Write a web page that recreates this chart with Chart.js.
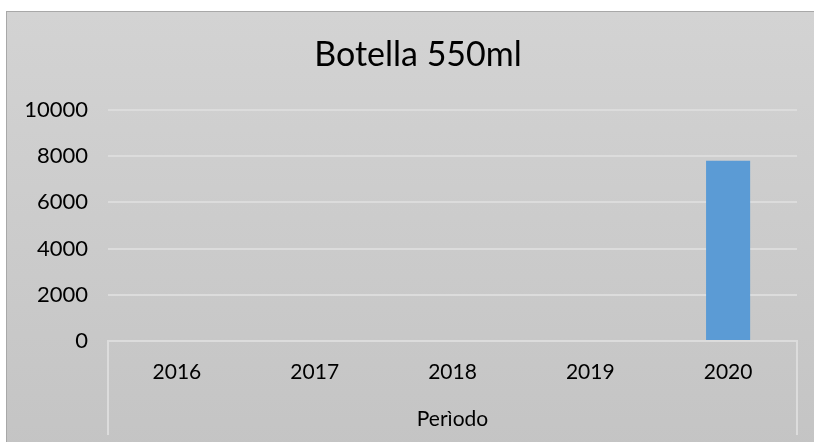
<!DOCTYPE html>
<html><head><meta charset="utf-8">
<script src="https://cdn.jsdelivr.net/npm/chart.js@4/dist/chart.umd.min.js"></script>
<style>
html,body{margin:0;padding:0;background:#fff;}
#frame{position:absolute;left:6px;top:11px;width:820px;height:440px;border:1px solid #a8a8a8;background:linear-gradient(#d3d3d3,#c4c4c4);}
#wrap{position:absolute;left:0;top:0;width:814px;height:442px;}
</style></head>
<body>
<div id="frame"></div>
<div id="wrap"><canvas id="c" width="814" height="442"></canvas></div>
<script>
const categories = ["2016","2017","2018","2019","2020"];
const values = [0,0,0,0,7800];
const chartTitle = "Botella 550ml";
const xTitle = "Perìodo";

const decor = {
  id:'decor',
  afterDraw(chart){
    const {ctx, chartArea} = chart;
    ctx.save();
    ctx.strokeStyle = '#dcdcdc';
    ctx.lineWidth = 2;
    ctx.beginPath();
    ctx.moveTo(chartArea.left, chartArea.bottom);
    ctx.lineTo(chartArea.left, chartArea.bottom + 94);
    ctx.moveTo(chartArea.right, chartArea.bottom);
    ctx.lineTo(chartArea.right, chartArea.bottom + 94);
    ctx.stroke();
    // chart title, centred on the chart frame
    ctx.fillStyle = '#000';
    ctx.font = '34px Lato';
    ctx.textAlign = 'center';
    ctx.textBaseline = 'middle';
    ctx.fillText(chartTitle, 418, 55);
    ctx.restore();
  }
};

new Chart(document.getElementById('c'), {
  type:'bar',
  data:{labels:categories, datasets:[{data:values, backgroundColor:'#5b9bd5', barPercentage:0.32, categoryPercentage:1}]},
  options:{
    responsive:false, animation:false,
    layout:{padding:{left:0,right:17,top:110,bottom:0}},
    plugins:{
      legend:{display:false},
      tooltip:{enabled:false},
      title:{display:false}
    },
    scales:{
      x:{
        grid:{display:false,drawTicks:false},
        border:{display:true,color:'#dcdcdc',width:2},
        ticks:{color:'#000',font:{family:'Lato',size:21},padding:19},
        title:{display:true,text:xTitle,color:'#000',font:{family:'Lato',size:21},padding:{top:0,bottom:10}},
        afterFit(s){s.height=101;}
      },
      y:{
        min:0,max:10000,
        ticks:{stepSize:2000,color:'#000',font:{family:'Lato',size:22},padding:20,callback:(v)=>String(v)},
        grid:{color:'#dcdcdc',lineWidth:2,drawTicks:false},
        border:{display:false},
        afterFit(s){s.width=108;}
      }
    }
  },
  plugins:[decor]
});
</script>
</body></html>
